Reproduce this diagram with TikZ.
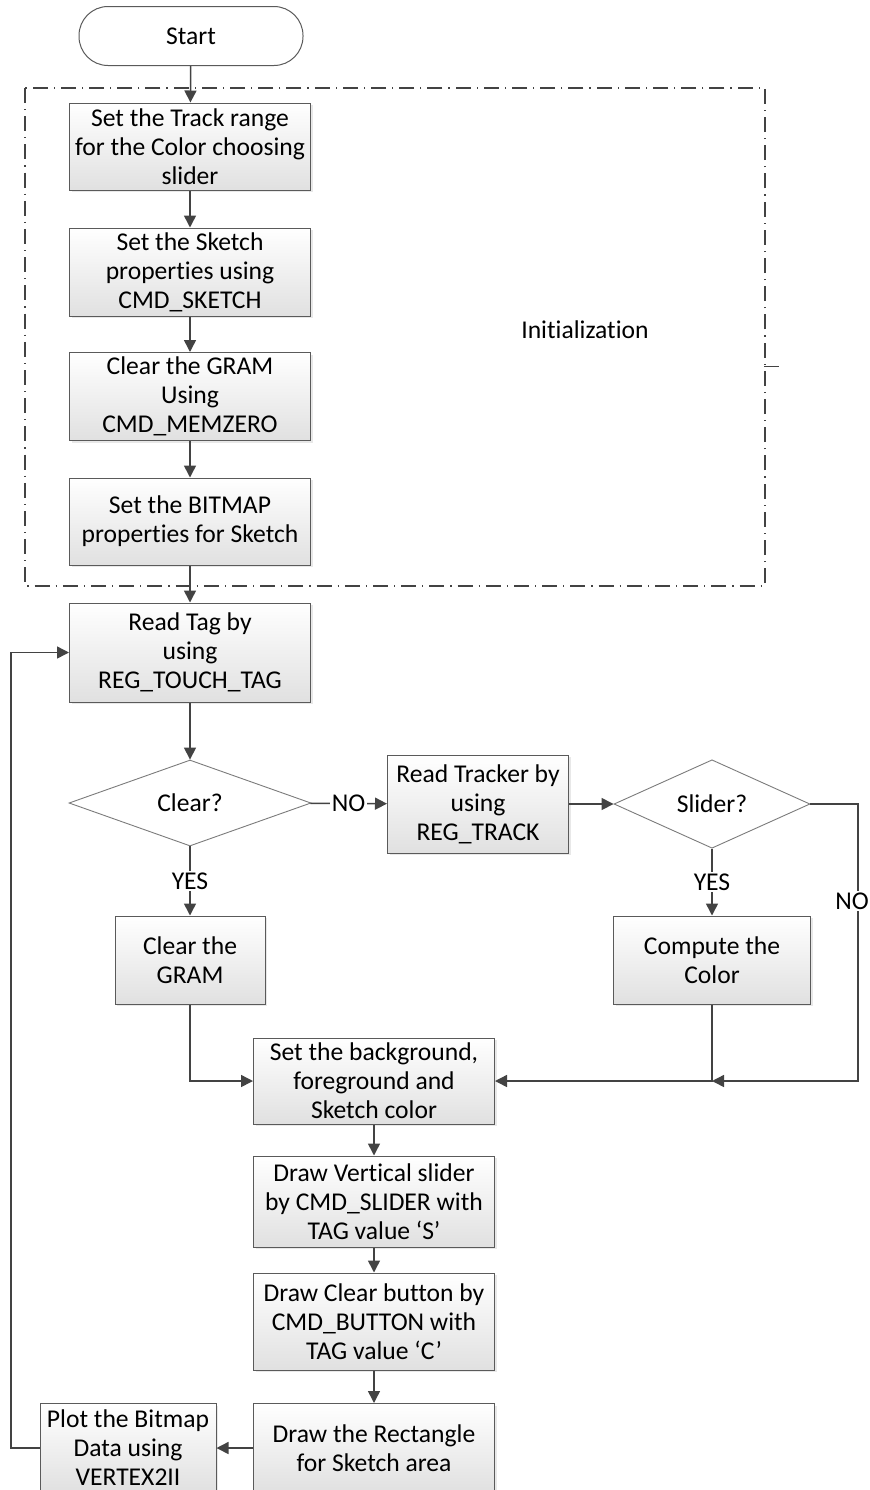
\documentclass[tikz,border=0pt]{standalone}
\usepackage{fontspec}
\setmainfont{Carlito}[Ligatures={NoCommon}]
\usetikzlibrary{arrows.meta,shapes.geometric,shadows}
\definecolor{lnc}{HTML}{434343}
\definecolor{bdc}{HTML}{5A5A5A}
\tikzset{
  proc/.style={draw=bdc, line width=0.5pt, top color=white, bottom color=black!12,
    align=center, inner sep=1pt, minimum width=120.5pt, minimum height=44pt,
    drop shadow={shadow xshift=1.2pt, shadow yshift=-1.2pt, opacity=0.18}},
  term/.style={draw=bdc, line width=0.5pt, fill=white, rounded corners=14.5pt,
    minimum width=112pt, minimum height=29.5pt},
  dec/.style={diamond, draw=bdc!80, line width=0.45pt, fill=white, inner sep=0pt},
  arr/.style={lnc, line width=0.75pt, -{Triangle[length=6pt,width=6pt]}},
  lbl/.style={fill=white, text=black, inner sep=1pt},
  frame/.style={lnc, line width=0.7pt, dash pattern=on 7.5pt off 3pt on 0.6pt off 3pt},
}
\begin{document}
\begin{tikzpicture}[x=0.5pt, y=-0.5pt, font=\fontsize{12.8}{14.5}\selectfont]
    \useasboundingbox (0,0) rectangle (869,1490);
    % init frame
    \draw [frame] (25,88) rectangle (765,586);
    \draw [lnc, line width=0.5pt] (764,366) -- (779,366);
    \node (ini) at (585,330) {Initialization};

    \node [term] (st) at (191,36) {Start};
    \node [proc, minimum height=43.5pt] (b1) at (190,146.5) {Set the Track range\\for the Color choosing\\slider};
    \node [proc] (b2) at (190,272) {Set the Sketch\\properties using\\CMD\_SKETCH};
    \node [proc] (b3) at (190,396.5) {Clear the GRAM\\Using\\CMD\_MEMZERO};
    \node [proc, minimum height=43.5pt] (b4) at (190,521.5) {Set the BITMAP\\properties for Sketch};
    \node [proc, minimum height=49.5pt] (rt) at (190,652.5) {Read Tag by\\using\\REG\_TOUCH\_TAG};
    \node [dec, minimum width=121pt, minimum height=43pt] (cl) at (190,803) {Clear?};
    \node [proc, minimum width=90.5pt, minimum height=49pt] (tr) at (478,804) {Read Tracker by\\using\\REG\_TRACK};
    \node [dec, minimum width=98pt, minimum height=43pt] (sl) at (712,804) {Slider?};
    \node [proc, minimum width=75pt] (cg) at (190,960) {Clear the\\GRAM};
    \node [proc, minimum width=98.5pt] (cc) at (712,960) {Compute the\\Color};
    \node [proc, minimum height=43pt] (bg) at (374,1081) {Set the background,\\foreground and\\Sketch color};
    \node [proc, minimum height=45.5pt] (vs) at (374,1201.5) {Draw Vertical slider\\by CMD\_SLIDER with\\TAG value ‘S’};
    \node [proc, minimum height=48.5pt] (cb) at (374,1321.5) {Draw Clear button by\\CMD\_BUTTON with\\TAG value ‘C’};
    \node [proc, minimum height=44.5pt] (re) at (374,1448) {Draw the Rectangle\\for Sketch area};
    \node [proc, minimum width=88pt, minimum height=44.5pt] (pb) at (128,1448) {Plot the Bitmap\\Data using\\VERTEX2II};
    \coordinate (nr) at (858,804);
    \coordinate (lp) at (11,1448);

    \draw [arr] (st) -- (b1);
    \draw [arr] (b1) -- (b2);
    \draw [arr] (b2) -- (b3);
    \draw [arr] (b3) -- (b4);
    \draw [arr] (b4) -- (rt);
    \draw [arr] (rt) -- (cl);
    \draw [arr] (cl) -- node [lbl] {NO} (tr);
    \draw [arr] (tr) -- (sl);
    \draw [arr] (cl) -- node [lbl] {YES} (cg);
    \draw [arr] (sl) -- node [lbl] {YES} (cc);
    \draw [arr] (cg) |- (bg);
    \draw [arr] (cc) |- (bg);
    \draw [arr] (sl) -- (nr) -- node [lbl, pos=0.35, xshift=-3pt] {NO} (nr |- bg) -- (cc |- bg);
    \draw [arr] (bg) -- (vs);
    \draw [arr] (vs) -- (cb);
    \draw [arr] (cb) -- (re);
    \draw [arr] (re) -- (pb);
    \draw [arr] (pb) -- (lp) |- (rt);
  \end{tikzpicture}
\end{document}
